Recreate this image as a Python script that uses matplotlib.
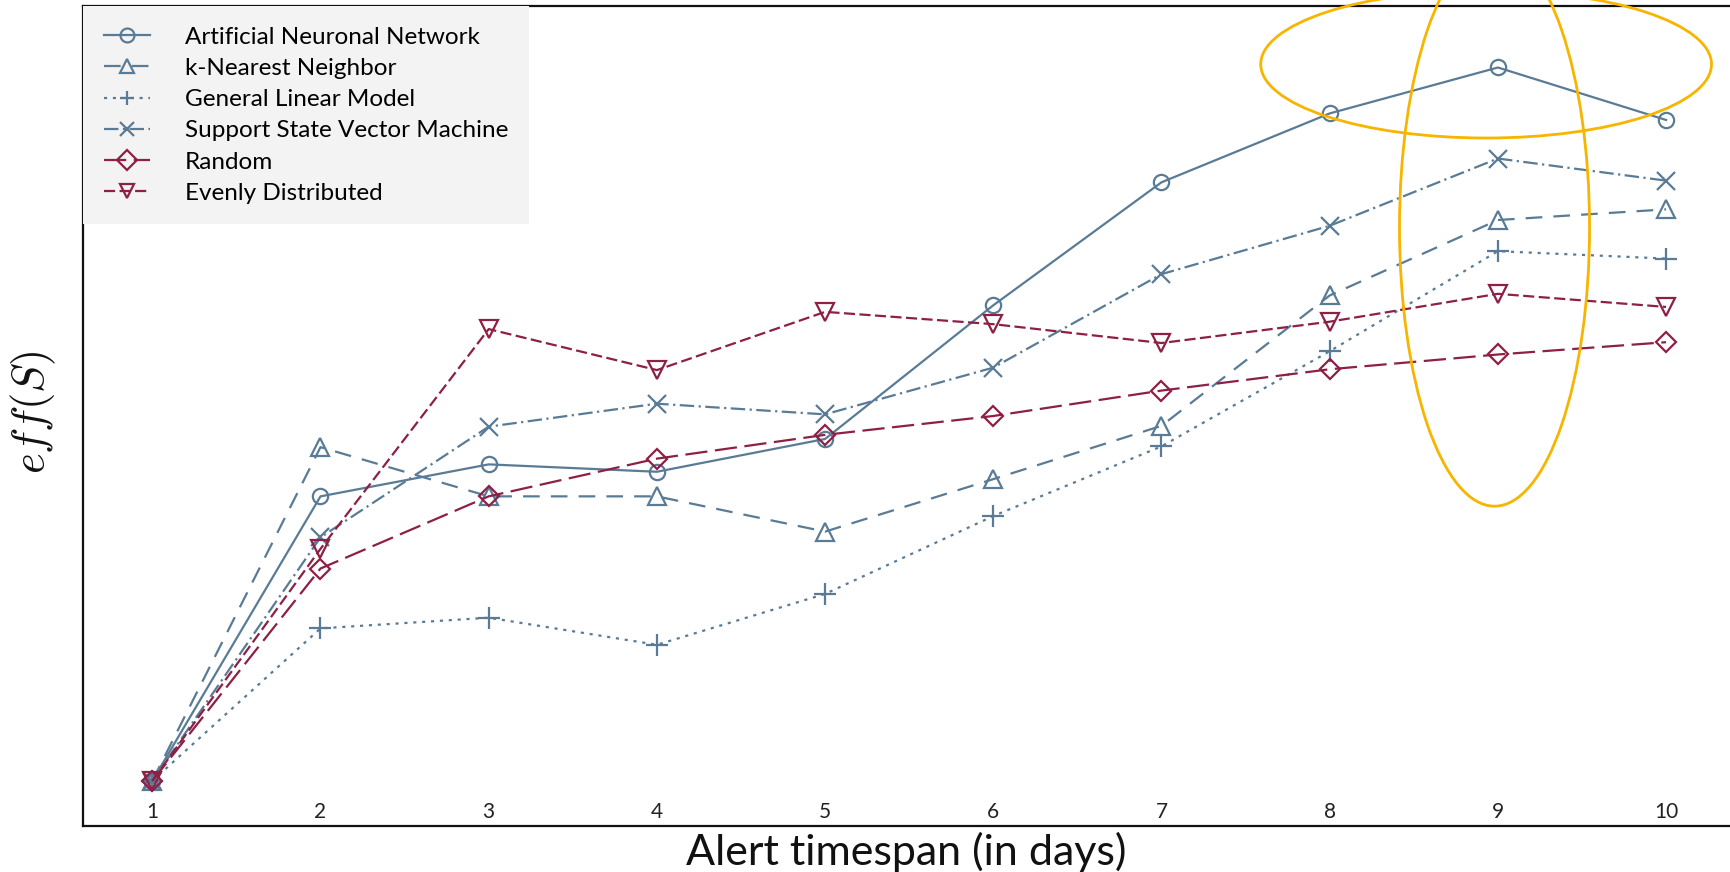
import matplotlib
matplotlib.use("Agg")
import matplotlib.pyplot as plt
from matplotlib.patches import Ellipse

# Alert timespan (days) and normalised efficiency eff(S) per method
days = [1, 2, 3, 4, 5, 6, 7, 8, 9, 10]
ann = [0.055, 0.402, 0.441, 0.432, 0.472, 0.635, 0.785, 0.869, 0.925, 0.861]
knn = [0.055, 0.462, 0.402, 0.402, 0.359, 0.423, 0.488, 0.647, 0.739, 0.752]
glm = [0.055, 0.241, 0.254, 0.221, 0.283, 0.378, 0.463, 0.579, 0.701, 0.692]
svm = [0.055, 0.352, 0.487, 0.515, 0.502, 0.559, 0.673, 0.732, 0.814, 0.787]
rnd = [0.055, 0.314, 0.402, 0.448, 0.477, 0.500, 0.531, 0.557, 0.575, 0.590]
even = [0.055, 0.338, 0.606, 0.556, 0.627, 0.612, 0.589, 0.615, 0.649, 0.633]

labels = ["Artificial Neuronal Network", "k-Nearest Neighbor", "General Linear Model",
          "Support State Vector Machine", "Random", "Evenly Distributed"]

BLUE = "#5a7b95"
RED = "#8e1f45"
GOLD = "#f7b500"

plt.rcParams["mathtext.fontset"] = "cm"
plt.rcParams["font.family"] = ["Lato", "DejaVu Sans"]

fig = plt.figure(figsize=(17.30, 8.72), dpi=100)
ax = fig.add_axes([83 / 1730, 46 / 872, 1 - 83 / 1730, (826 - 6) / 872])

lw = 1.6
styles = [
    (ann, BLUE, "-", "o", 11),
    (knn, BLUE, (0, (7.5, 5)), "^", 13),
    (glm, BLUE, (0, (1.4, 2.6)), "+", 16),
    (svm, BLUE, (0, (6.5, 2, 1, 2)), "x", 13),
    (rnd, RED, (0, (10, 3.4)), "D", 10),
    (even, RED, (0, (5, 2)), "v", 13),
]
for (vals, col, ls, mk, ms), lab in zip(styles, labels):
    ax.plot(days, vals, color=col, linestyle=ls, linewidth=lw, marker=mk,
            markersize=ms, markerfacecolor="none", markeredgecolor=col,
            markeredgewidth=1.6, label=lab)

ax.set_xlim(0.588, 10.38)
ax.set_ylim(0, 1)
ax.set_xticks(days)
ax.set_xticklabels([str(d) for d in days])
ax.tick_params(axis="x", length=0, pad=-17, labelsize=15, labelcolor="#222222")
ax.set_yticks([])

for side in ("left", "bottom", "top"):
    ax.spines[side].set_linewidth(1.6)
    ax.spines[side].set_color("#111111")
ax.spines["right"].set_visible(False)

ax.set_xlabel("Alert timespan (in days)", fontsize=31, labelpad=4, color="#111111")
ax.set_ylabel(r"$eff(S)$", fontsize=32, color="#111111")
ax.yaxis.set_label_coords(-0.015, 0.505)

leg = ax.legend(loc="upper left", bbox_to_anchor=(0, 1), borderaxespad=0.0,
                fontsize=17.5, handlelength=1.9, handletextpad=1.45,
                labelspacing=0.42, borderpad=0.85, numpoints=1,
                fancybox=False, frameon=True)
leg.get_frame().set_facecolor("#f3f3f3")
leg.get_frame().set_edgecolor("none")
leg.get_frame().set_alpha(1)
for h in leg.legend_handles:
    h.set_markersize(10)

# highlight the peak region around day 9
ax.add_patch(Ellipse((8.93, 0.929), 2.68, 0.18, fill=False, edgecolor=GOLD,
                     linewidth=2, clip_on=False, zorder=5))
ax.add_patch(Ellipse((8.98, 0.73), 1.13, 0.68, fill=False, edgecolor=GOLD,
                     linewidth=2, clip_on=False, zorder=5))

fig.savefig("out.png", dpi=100)
